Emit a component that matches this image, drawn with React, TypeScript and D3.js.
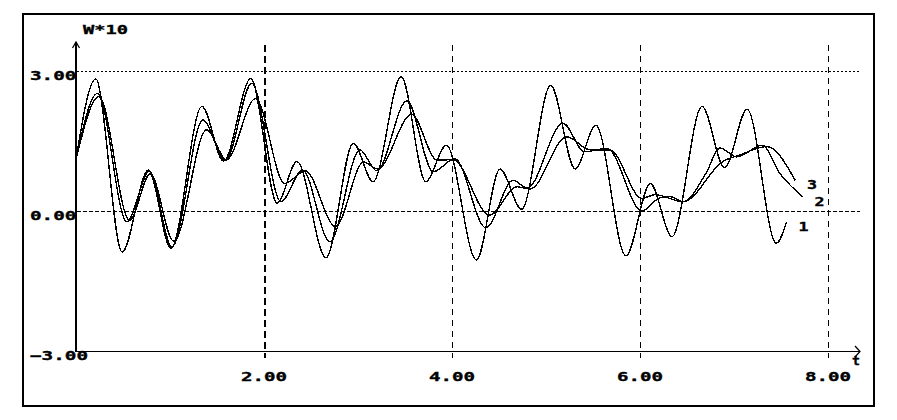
import React from "react";
import * as d3 from "d3";

// Series 1 (most oscillatory)
const curve1T = [0, 0.21, 0.49, 0.77, 1.01, 1.34, 1.57, 1.86, 2.14, 2.35, 2.66, 2.95, 3.16, 3.46, 3.72, 3.94, 4.26, 4.51, 4.74, 5.05, 5.31, 5.53, 5.85, 6.11, 6.34, 6.66, 6.9, 7.14, 7.45, 7.56];
const curve1V = [1.1, 2.83, -0.88, 0.88, -0.8, 2.24, 1.07, 2.84, 0.17, 1.06, -1.0, 1.45, 0.63, 2.88, 0.63, 1.41, -1.05, 0.9, 0.04, 2.69, 0.9, 1.84, -0.96, 0.59, -0.55, 2.24, 0.93, 2.18, -0.69, -0.23];

// Series 2
const curve2T = [0, 0.23, 0.54, 0.78, 1.02, 1.35, 1.59, 1.87, 2.18, 2.41, 2.7, 3.02, 3.2, 3.52, 3.8, 4.03, 4.36, 4.65, 4.8, 5.18, 5.41, 5.65, 6.02, 6.21, 6.32, 6.46, 6.7, 6.85, 7.03, 7.3, 7.49, 7.65, 7.73];
const curve2V = [1.1, 2.52, -0.23, 0.85, -0.77, 1.95, 1.08, 2.74, 0.2, 0.88, -0.66, 1.31, 0.86, 2.36, 0.84, 1.12, -0.36, 0.66, 0.49, 1.88, 1.27, 1.34, 0.0, 0.28, 0.31, 0.2, 0.8, 1.35, 1.16, 1.41, 0.8, 0.45, 0.31];

// Series 3
const curve3T = [0, 0.245, 0.57, 0.79, 1.04, 1.39, 1.6, 1.91, 2.22, 2.44, 2.76, 3.06, 3.21, 3.57, 3.84, 4.01, 4.4, 4.69, 4.83, 5.22, 5.47, 5.68, 6.02, 6.16, 6.46, 6.88, 7.06, 7.35, 7.65];
const curve3V = [1.1, 2.45, -0.2, 0.8, -0.65, 1.74, 1.1, 2.41, 0.59, 0.86, -0.33, 1.05, 0.9, 2.07, 1.09, 1.1, -0.09, 0.52, 0.47, 1.59, 1.31, 1.31, 0.27, 0.35, 0.2, 1.06, 1.2, 1.38, 0.66];

const seriesNames = ["1", "2", "3"];
const yTicks = [-3, 0, 3];
const xTicks = [2, 4, 6, 8];
const yAxisTitle = "W*10";
const xAxisTitle = "t";

const FONT = "'DejaVu Sans Mono', monospace";

export default function App() {
  const W = 897;
  const H = 420;
  const x = d3.scaleLinear().domain([0, 8]).range([76, 828]);
  const y = d3.scaleLinear().domain([-3, 3]).range([351, 71]);
  const fmt = d3.format(".2f");
  const line = d3
    .line<[number, number]>()
    .x((d) => x(d[0]))
    .y((d) => y(d[1]))
    .curve(d3.curveMonotoneX);

  const series = [
    { name: seriesNames[0], t: curve1T, v: curve1V },
    { name: seriesNames[1], t: curve2T, v: curve2V },
    { name: seriesNames[2], t: curve3T, v: curve3V },
  ];

  const axisTop = 42;
  const xEnd = 860;
  const vBottom = 358;
  const x0 = x(0);
  const textProps = { fontSize: 12.5, stroke: "#000", strokeWidth: 0.35, lengthAdjust: "spacingAndGlyphs" as const };

  return (
    <svg
      width={W}
      height={H}
      style={{ position: "fixed", left: 0, top: 0, background: "#fff" }}
      fontFamily={FONT}
      fontWeight="bold"
    >
      <rect x={0} y={0} width={W} height={H} fill="#fff" />
      {/* frame */}
      <rect x={23} y={14} width={851} height={392} fill="none" stroke="#000" strokeWidth={2} shapeRendering="crispEdges" />

      {/* horizontal grid lines */}
      {yTicks
        .filter((v) => v !== -3)
        .map((v) => (
          <line
            key={"hg" + v}
            x1={x0 + 1}
            x2={xEnd}
            y1={y(v) + 0.5}
            y2={y(v) + 0.5}
            stroke="#000"
            strokeWidth={1}
            strokeDasharray={v === 3 ? "2,2" : "4,2"}
            shapeRendering="crispEdges"
          />
        ))}

      {/* vertical grid lines */}
      {xTicks.map((v) => (
        <line
          key={"vg" + v}
          x1={x(v) + 0.5}
          x2={x(v) + 0.5}
          y1={axisTop + 3}
          y2={vBottom}
          stroke="#000"
          strokeWidth={v === 2 ? 2 : 1}
          strokeDasharray={v === 2 ? "7,4" : "6,5"}
          shapeRendering="crispEdges"
        />
      ))}

      {/* axes */}
      <line x1={x0} x2={x0} y1={axisTop} y2={y(-3) + 1} stroke="#000" strokeWidth={2} shapeRendering="crispEdges" />
      <line x1={x0} x2={xEnd} y1={y(-3) + 0.5} y2={y(-3) + 0.5} stroke="#000" strokeWidth={1} shapeRendering="crispEdges" />
      <polyline points={`${x0 - 3.5},48 ${x0},${axisTop} ${x0 + 3.5},48`} fill="none" stroke="#000" strokeWidth={1.3} />
      <polyline points={`${xEnd - 5},${y(-3) - 5} ${xEnd},${y(-3) + 0.5} ${xEnd - 5},${y(-3) + 6}`} fill="none" stroke="#000" strokeWidth={1.3} />

      {/* curves */}
      {series.map((s) => (
        <path
          key={"c" + s.name}
          d={line(s.t.map((t, i) => [t, s.v[i]] as [number, number])) || ""}
          fill="none"
          stroke="#000"
          strokeWidth={1.4}
          shapeRendering="crispEdges"
        />
      ))}

      {/* series labels */}
      {series.map((s) => {
        const n = s.t.length - 1;
        return (
          <text key={"l" + s.name} x={x(s.t[n]) + 12} y={y(s.v[n]) + 9} textLength={10} {...textProps}>
            {s.name}
          </text>
        );
      })}

      {/* y tick labels */}
      {yTicks.map((v) => {
        const s = fmt(v);
        return (
          <text key={"yl" + v} x={30} y={y(v) + 9} textLength={s.length * 11.6} {...textProps}>
            {s}
          </text>
        );
      })}

      {/* x tick labels */}
      {xTicks.map((v) => {
        const s = fmt(v);
        return (
          <text key={"xl" + v} x={x(v) - 23} y={381} textLength={46} {...textProps}>
            {s}
          </text>
        );
      })}

      {/* axis titles */}
      <text x={83} y={34} textLength={45} {...textProps}>
        {yAxisTitle}
      </text>
      <text x={852} y={365} textLength={8} {...textProps}>
        {xAxisTitle}
      </text>
    </svg>
  );
}
